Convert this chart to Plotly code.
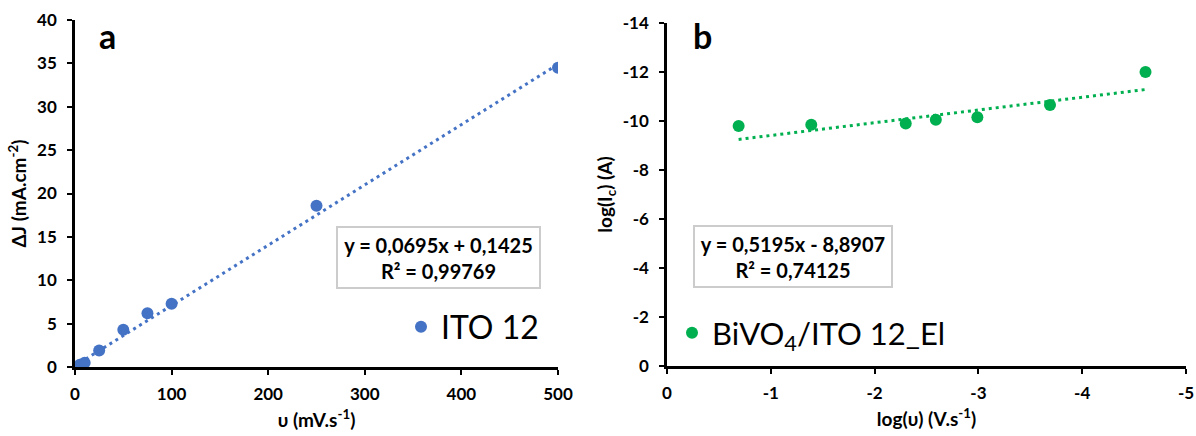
import plotly.graph_objects as go

# ---- data ----
scan_rate_mV = [5, 10, 25, 50, 75, 100, 250, 500]
delta_J = [0.25, 0.5, 1.9, 4.3, 6.2, 7.3, 18.6, 34.5]
fit_a = (0.0695, 0.1425)

log_v = [-0.69, -1.39, -2.30, -2.59, -2.99, -3.69, -4.61]
log_Ic = [-9.8, -9.85, -9.9, -10.05, -10.15, -10.65, -12.0]
fit_b = (0.5195, -8.8907)

xa_ticks = [0, 100, 200, 300, 400, 500]
ya_ticks = [0, 5, 10, 15, 20, 25, 30, 35, 40]
xb_ticks = [0, -1, -2, -3, -4, -5]
yb_ticks = [0, -2, -4, -6, -8, -10, -12, -14]

W, H = 1196, 436
FONT = "Lato"
BLUE = "#4472C4"
GREEN = "#00B050"


def px_x(p):
    return p / W


def px_y(p):
    return 1 - p / H


def bold_ticks(vals):
    return ["<b>%s</b>" % v for v in vals]


fig = go.Figure()

fig.add_trace(go.Scatter(x=scan_rate_mV, y=delta_J, mode="markers", name="ITO 12",
                         marker=dict(color=BLUE, size=12), xaxis="x", yaxis="y", legend="legend"))
xa = [min(scan_rate_mV), max(scan_rate_mV)]
fig.add_trace(go.Scatter(x=xa, y=[fit_a[0] * v + fit_a[1] for v in xa], mode="lines",
                         line=dict(color=BLUE, width=3, dash="3px,4px"), showlegend=False,
                         xaxis="x", yaxis="y", hoverinfo="skip"))

fig.add_trace(go.Scatter(x=log_v, y=log_Ic, mode="markers", name="BiVO<sub>4</sub>/ITO 12_El",
                         marker=dict(color=GREEN, size=12), xaxis="x2", yaxis="y2", legend="legend2"))
xb = [max(log_v), min(log_v)]
fig.add_trace(go.Scatter(x=xb, y=[fit_b[0] * v + fit_b[1] for v in xb], mode="lines",
                         line=dict(color=GREEN, width=3, dash="3px,4px"), showlegend=False,
                         xaxis="x2", yaxis="y2", hoverinfo="skip"))

axis_common = dict(showgrid=False, zeroline=False, showline=True, linecolor="black", linewidth=2.5,
                   ticks="outside", ticklen=5, tickwidth=2, tickcolor="black",
                   tickfont=dict(family=FONT, size=17, color="black", weight=700),
                   title_font=dict(family=FONT, size=19, color="black"),
                   automargin=False, fixedrange=True, ticklabeloverflow="allow")

fig.update_layout(
    width=W, height=H, margin=dict(l=0, r=0, t=0, b=0),
    plot_bgcolor="white", paper_bgcolor="white",
    xaxis=dict(domain=[px_x(75), px_x(558)], range=[0, 500], tickvals=xa_ticks,
               ticktext=bold_ticks(xa_ticks),
               anchor="y", title=dict(text="<b>υ (mV.s<sup>-1</sup>)</b>", standoff=11),
               ticklabelstandoff=5, **axis_common),
    yaxis=dict(domain=[px_y(367), px_y(20)], range=[0, 40], tickvals=ya_ticks,
               ticktext=bold_ticks(ya_ticks),
               anchor="x", title=dict(text="<b>ΔJ (mA.cm<sup>-2</sup>)</b>", standoff=6),
               ticklabelstandoff=7, **axis_common),
    xaxis2=dict(domain=[px_x(667), px_x(1186)], range=[0, -5], tickvals=xb_ticks,
                ticktext=bold_ticks(xb_ticks),
                anchor="y2", title=dict(text="<b>log(υ) (V.s<sup>-1</sup>)</b>", standoff=11),
                ticklabelstandoff=5, **axis_common),
    yaxis2=dict(domain=[px_y(366), px_y(23)], range=[0, -14], tickvals=yb_ticks,
                ticktext=bold_ticks(yb_ticks),
                anchor="x2", title=dict(text="<b>log(I<sub>c</sub>) (A)</b>", standoff=6),
                ticklabelstandoff=7, **axis_common),
    legend=dict(x=px_x(401), y=px_y(327), xanchor="left", yanchor="middle", bgcolor="rgba(0,0,0,0)",
                font=dict(family=FONT, size=32, color="black")),
    legend2=dict(x=px_x(672), y=px_y(333), xanchor="left", yanchor="middle", bgcolor="rgba(0,0,0,0)",
                 font=dict(family=FONT, size=31, color="black")),
    annotations=[
        dict(text="<b>a</b>", x=px_x(107), y=px_y(36), xref="paper", yref="paper", showarrow=False,
             xanchor="center", yanchor="middle",
             font=dict(family=FONT, size=34, color="black")),
        dict(text="<b>b</b>", x=px_x(702), y=px_y(36), xref="paper", yref="paper", showarrow=False,
             xanchor="center", yanchor="middle",
             font=dict(family=FONT, size=34, color="black")),
        dict(text="<b>y = 0,0695x + 0,1425<br>R² = 0,99769</b>", x=px_x(438.5), y=px_y(257.5),
             xref="paper", yref="paper", showarrow=False, align="center",
             xanchor="center", yanchor="middle",
             font=dict(family=FONT, size=20, color="black"),
             bordercolor="#cccccc", borderwidth=2, borderpad=3, bgcolor="white",
             width=195, height=53),
        dict(text="<b>y = 0,5195x - 8,8907<br>R² = 0,74125</b>", x=px_x(793), y=px_y(256.5),
             xref="paper", yref="paper", showarrow=False, align="center",
             xanchor="center", yanchor="middle",
             font=dict(family=FONT, size=20, color="black"),
             bordercolor="#cccccc", borderwidth=2, borderpad=3, bgcolor="white",
             width=190, height=53),
    ],
)

fig.write_html("out.html", config={"displayModeBar": False},
               post_script="document.body.style.margin='0';document.body.style.overflow='hidden';")
